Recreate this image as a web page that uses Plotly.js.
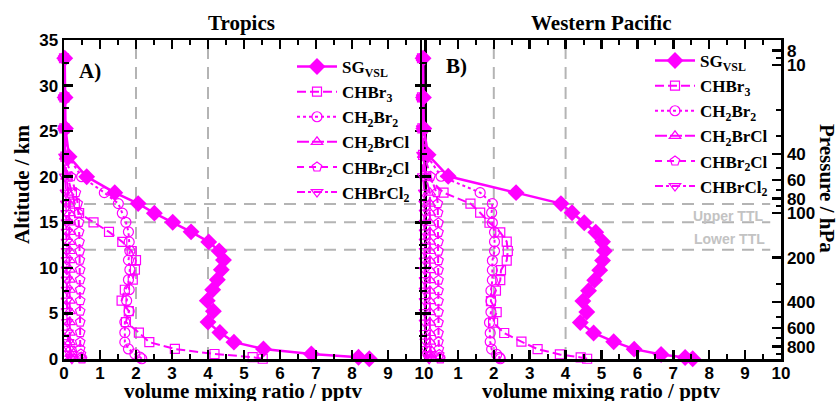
<!DOCTYPE html>
<html><head><meta charset="utf-8">
<script src="https://cdn.plot.ly/plotly-3.0.1.min.js"></script>
<style>body{margin:0;background:#fff}#chart{width:838px;height:401px}</style>
</head><body><div id="chart"></div>
<script>
// ---------- data ----------
var speciesNames = ['SG<sub>VSL</sub>', 'CHBr<sub>3</sub>', 'CH<sub>2</sub>Br<sub>2</sub>', 'CH<sub>2</sub>BrCl', 'CHBr<sub>2</sub>Cl', 'CHBrCl<sub>2</sub>'];
var panelTitles = ['Tropics', 'Western Pacific'];

// Tropics (panel A)
var altTropics = [0.03, 0.2, 0.55, 1.1, 1.85, 2.9, 4.05, 5.25, 6.4, 7.6, 8.7, 9.8, 10.85, 11.85, 12.85, 13.95, 15.0, 16.0, 17.05, 18.25, 20.0, 22.2, 25.3, 28.7, 33.0];
var sgTropics     = [8.48, 8.18, 6.87, 5.54, 4.72, 4.33, 4.0, 4.15, 3.98, 4.13, 4.26, 4.37, 4.43, 4.31, 4.02, 3.53, 3.02, 2.51, 2.06, 1.41, 0.63, 0.14, 0.04, 0.03, 0.02];
var chbr3Tropics  = [5.52, 5.24, 4.18, 3.08, 2.37, 2.08, 1.72, 1.8, 1.6, 1.69, 1.91, 1.97, 2.0, 1.88, 1.62, 1.25, 0.82, 0.42, 0.3, 0.22, 0.1, 0.04, 0.01, 0.01, 0.0];
var ch2br2Tropics = [2.16, 2.11, 1.97, 1.79, 1.69, 1.69, 1.69, 1.81, 1.74, 1.81, 1.79, 1.83, 1.79, 1.83, 1.81, 1.79, 1.72, 1.62, 1.51, 1.12, 0.49, 0.12, 0.03, 0.02, 0.01];
var ch2brclTropics= [0.2, 0.19, 0.18, 0.17, 0.16, 0.16, 0.16, 0.16, 0.16, 0.16, 0.16, 0.16, 0.16, 0.16, 0.16, 0.16, 0.15, 0.15, 0.14, 0.12, 0.07, 0.03, 0.01, 0.0, 0.0];
var chbr2clTropics= [0.5, 0.48, 0.47, 0.45, 0.45, 0.45, 0.45, 0.45, 0.45, 0.45, 0.45, 0.45, 0.44, 0.44, 0.43, 0.42, 0.42, 0.4, 0.38, 0.33, 0.2, 0.05, 0.01, 0.0, 0.0];
var chbrcl2Tropics= [0.22, 0.2, 0.18, 0.15, 0.12, 0.1, 0.09, 0.08, 0.08, 0.08, 0.08, 0.08, 0.08, 0.08, 0.08, 0.08, 0.08, 0.07, 0.06, 0.05, 0.03, 0.01, 0.0, 0.0, 0.0];

// Western Pacific (panel B)
var altWP = [0.03, 0.17, 0.5, 1.08, 1.9, 2.85, 4.0, 5.15, 6.35, 7.5, 8.65, 9.75, 10.8, 11.85, 12.87, 13.9, 14.95, 16.05, 17.05, 18.25, 20.05, 22.4, 25.3, 28.7, 33.0];
var sgWP      = [7.54, 7.33, 6.66, 5.91, 5.34, 4.78, 4.41, 4.59, 4.48, 4.64, 4.81, 4.95, 5.03, 5.08, 5.03, 4.84, 4.52, 4.18, 3.87, 2.62, 0.73, 0.17, 0.05, 0.04, 0.03];
var chbr3WP   = [4.6, 4.42, 3.84, 3.22, 2.77, 2.29, 1.98, 2.08, 1.92, 2.06, 2.18, 2.2, 2.36, 2.39, 2.36, 2.18, 1.88, 1.62, 1.35, 0.6, 0.12, 0.03, 0.01, 0.0, 0.0];
var ch2br2WP  = [2.18, 2.16, 2.08, 1.94, 1.9, 1.9, 1.88, 1.92, 1.92, 1.92, 1.96, 1.96, 1.96, 2.02, 2.02, 2.02, 1.96, 1.94, 1.96, 1.62, 0.53, 0.12, 0.03, 0.02, 0.01];
var ch2brclWP = [0.26, 0.25, 0.24, 0.23, 0.22, 0.22, 0.22, 0.22, 0.22, 0.22, 0.22, 0.22, 0.22, 0.22, 0.22, 0.22, 0.22, 0.22, 0.22, 0.22, 0.1, 0.03, 0.01, 0.0, 0.0];
var chbr2clWP = [0.51, 0.5, 0.48, 0.47, 0.46, 0.46, 0.46, 0.46, 0.46, 0.46, 0.46, 0.46, 0.46, 0.46, 0.46, 0.46, 0.46, 0.45, 0.44, 0.4, 0.24, 0.06, 0.01, 0.0, 0.0];
var chbrcl2WP = [0.2, 0.18, 0.15, 0.12, 0.1, 0.09, 0.08, 0.08, 0.08, 0.08, 0.08, 0.08, 0.08, 0.08, 0.08, 0.08, 0.08, 0.08, 0.07, 0.06, 0.03, 0.01, 0.0, 0.0, 0.0];

// axis ticks
var xTicks = [0, 1, 2, 3, 4, 5, 6, 7, 8, 9, 10];
var xTicksRight = [1, 2, 3, 4, 5, 6, 7, 8, 9, 10];
var altTicks = [0, 5, 10, 15, 20, 25, 30, 35];
var pTicks = [8, 10, 40, 60, 80, 100, 200, 400, 600, 800];
var pMinorTicks = [9, 20, 30, 50, 70, 90, 300, 500, 700, 900];
var ttlLevels = [17, 15, 12];     // km, horizontal reference lines
var refVmr = [2, 4];              // pptv, vertical reference lines

// ---------- styling ----------
var MAG = '#FF00FF';
var styles = [
  {symbol: 'diamond', size: 13, dash: 'solid', width: 2.5},
  {symbol: 'square-open', size: 9, dash: '9px,4px', width: 2},
  {symbol: 'circle-open', size: 10, dash: '3px,3px', width: 2},
  {symbol: 'triangle-up-open', size: 10, dash: '12px,3px', width: 2},
  {symbol: 'pentagon-open', size: 10, dash: '7px,5px', width: 2},
  {symbol: 'triangle-down-open', size: 10, dash: '8px,3px,3px,3px', width: 2}
];

var tropicsSeries = [sgTropics, chbr3Tropics, ch2br2Tropics, ch2brclTropics, chbr2clTropics, chbrcl2Tropics];
var wpSeries = [sgWP, chbr3WP, ch2br2WP, ch2brclWP, chbr2clWP, chbrcl2WP];

var traces = [];
function addPanel(series, alt, xa, ya, legendName, prefix) {
  series.forEach(function (vals, i) {
    var st = styles[i];
    traces.push({
      type: 'scatter', mode: 'lines+markers',
      x: vals, y: alt, xaxis: xa, yaxis: ya,
      name: speciesNames[i], legend: legendName, legendgroup: prefix + i,
      line: {color: MAG, width: st.width, dash: st.dash},
      marker: {symbol: st.symbol, size: st.size, color: MAG,
               line: {color: MAG, width: i === 0 ? 0 : 1.2}},
      cliponaxis: false, hoverinfo: 'skip'
    });
  });
}
addPanel(tropicsSeries, altTropics, 'x', 'y', 'legend', 'a');
addPanel(wpSeries, altWP, 'x2', 'y2', 'legend2', 'b');
// anchor trace for the pressure axis
traces.push({type: 'scatter', mode: 'markers', x: [null], y: [null], xaxis: 'x2', yaxis: 'y3', showlegend: false, hoverinfo: 'skip'});

// ---------- layout ----------
var W = 838, H = 401, L = 64, R = 57, T = 40, B = 42;
var PW = W - L - R, PH = H - T - B;
function px2x(p) { return (p - L) / PW; }
function px2y(p) { return (H - B - p) / PH; }

var tickFont = {family: 'Liberation Sans, Arial, sans-serif', size: 17, color: '#000', weight: 'bold'};
var serifBold = {family: 'Liberation Serif, Times New Roman, serif', color: '#000', weight: 'bold'};

function xAxis(domain, anchor, tv) {
  return {domain: domain, anchor: anchor, range: [0, 10], tickmode: 'array', tickvals: tv,
    ticks: 'inside', ticklen: 9, tickwidth: 2.5, tickcolor: '#000',
    minor: {dtick: 0.5, ticks: 'inside', ticklen: 5, tickwidth: 2, tickcolor: '#000'},
    showline: true, linewidth: 2.5, linecolor: '#000', mirror: 'ticks',
    showgrid: false, zeroline: false, tickfont: tickFont, ticklabelstandoff: -3, fixedrange: true};
}
function yAxis(domain, anchor, labels, mirror) {
  return {domain: [0, 1], anchor: anchor, range: [0, 35], tickmode: 'array', tickvals: altTicks,
    showticklabels: labels,
    ticks: 'inside', ticklen: 9, tickwidth: 2.5, tickcolor: '#000',
    minor: {dtick: 2.5, ticks: 'inside', ticklen: 5, tickwidth: 2, tickcolor: '#000'},
    showline: true, linewidth: 2.5, linecolor: '#000', mirror: mirror,
    showgrid: false, zeroline: false, tickfont: tickFont, fixedrange: true};
}

var leftDom = [0, px2x(424)];
var rightDom = [px2x(422), 1];

var shapes = [];
var grey = {color: '#b4b4b4', width: 2, dash: '12px,8px'};
[['x', 'y', 10], ['x2', 'y2', 9.7]].forEach(function (p) {
  ttlLevels.forEach(function (lv) {
    shapes.push({type: 'line', xref: p[0], yref: p[1], x0: 0, x1: p[2], y0: lv, y1: lv, line: grey, layer: 'below'});
  });
  refVmr.forEach(function (v) {
    shapes.push({type: 'line', xref: p[0], yref: p[1], x0: v, x1: v, y0: 0, y1: 35, line: grey, layer: 'below'});
  });
});

function ann(text, xp, yp, font, extra) {
  var a = {text: text, xref: 'paper', yref: 'paper', x: px2x(xp), y: px2y(yp),
    xanchor: 'center', yanchor: 'middle', showarrow: false, font: font};
  for (var k in extra) a[k] = extra[k];
  return a;
}
function f(base, size, color) { var o = {}; for (var k in base) o[k] = base[k]; o.size = size; if (color) o.color = color; return o; }

var annotations = [
  ann(panelTitles[0], 241, 23, f(serifBold, 21)),
  ann(panelTitles[1], 601.5, 23, f(serifBold, 21)),
  ann('A)', 90, 71, f(serifBold, 21)),
  ann('B)', 456, 66, f(serifBold, 21)),
  ann('Altitude / km', 22, 184, f(serifBold, 21), {textangle: -90}),
  ann('volume mixing ratio / pptv', 243, 391, f(serifBold, 21)),
  ann('volume mixing ratio / pptv', 601.5, 391, f(serifBold, 21)),
  ann('Pressure / hPa', 827, 188, f(serifBold, 21), {textangle: 90}),
  ann('Upper TTL', 728, 216, {family: 'Liberation Sans, Arial, sans-serif', size: 14, color: '#c3c3c3', weight: 'bold'}),
  ann('Lower TTL', 729, 239, {family: 'Liberation Sans, Arial, sans-serif', size: 14, color: '#c3c3c3', weight: 'bold'})
];

function legendCfg(xp, yp) {
  return {x: px2x(xp), y: px2y(yp), xanchor: 'left', yanchor: 'top', bgcolor: 'rgba(0,0,0,0)',
    font: f(serifBold, 17), tracegroupgap: 0, itemwidth: 40, itemclick: false, itemdoubleclick: false};
}

var layout = {
  width: W, height: H, margin: {l: L, r: R, t: T, b: B},
  paper_bgcolor: '#fff', plot_bgcolor: 'rgba(0,0,0,0)', showlegend: true,
  xaxis: xAxis(leftDom, 'y', xTicks),
  yaxis: yAxis(leftDom, 'x', true, 'ticks'),
  xaxis2: xAxis(rightDom, 'y2', xTicksRight),
  yaxis2: yAxis(rightDom, 'x2', false, true),
  yaxis3: {overlaying: 'y2', anchor: 'x2', side: 'right', type: 'log',
    range: [2.986, 0.831], tickmode: 'array', tickvals: pTicks, ticktext: pTicks.map(String),
    ticks: 'inside', ticklen: 9, tickwidth: 2.5, tickcolor: '#000',
    minor: {tickmode: 'array', tickvals: pMinorTicks, ticks: 'inside', ticklen: 5, tickwidth: 2, tickcolor: '#000'},
    showline: true, linewidth: 2.5, linecolor: '#000', showgrid: false, zeroline: false,
    tickfont: tickFont, ticklabelstandoff: 0, fixedrange: true},
  legend: legendCfg(292, 49),
  legend2: legendCfg(650, 43),
  shapes: shapes, annotations: annotations
};

Plotly.newPlot('chart', traces, layout, {staticPlot: true, displayModeBar: false});
</script></body></html>
